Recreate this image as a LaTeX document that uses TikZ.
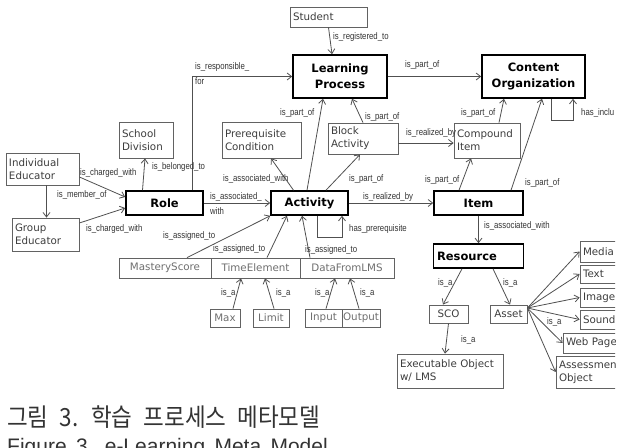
\documentclass[tikz,border=0pt]{standalone}
\usepackage{fontspec}
\setmainfont{DejaVu Sans}
\newfontfamily\lblfont[FakeStretch=0.82]{Liberation Sans}
\newfontfamily\krfont[FakeStretch=0.9,WordSpace=2.2]{Noto Sans CJK KR}
\newfontfamily\enfont[WordSpace=1.6]{Liberation Sans}
\usetikzlibrary{positioning,arrows.meta}
\definecolor{boxgray}{HTML}{626262}
\definecolor{txtgray}{HTML}{3C3C3C}
\definecolor{cellgray}{HTML}{6E6E6E}
\definecolor{linegray}{HTML}{505050}
\definecolor{lblgray}{HTML}{333333}
\definecolor{capgray}{HTML}{333333}

\begin{document}
\begin{tikzpicture}[
  x=1pt, y=-1pt,
  box/.style={draw=boxgray,line width=0.8pt,inner sep=3pt,text=txtgray,font=\fontsize{10.3}{13}\selectfont},
  lbox/.style={box,align=left,text width=#1},
  cell/.style={box,minimum height=20,inner xsep=1pt,text=cellgray},
  title/.style={draw=black,line width=1.6pt,align=center,font=\bfseries\fontsize{11.5}{16}\selectfont},
  edge/.style={-{Straight Barb[length=4.5pt,width=7pt]},draw=linegray,line width=0.8pt},
  rel/.style={anchor=west,inner sep=0pt,text=lblgray,font=\lblfont\fontsize{9.5}{10}\selectfont}
]
\useasboundingbox (0,0) rectangle (623,447);

\begin{scope}
\clip (0,0) rectangle (615,400);
% main concepts
\node[lbox=71,minimum height=20] (student) at (328.5,17) {Student};
\node[title,minimum width=94,minimum height=43] (lp) at (340,76.5) {Learning\\Process};
\node[title,minimum width=103,minimum height=43] (co) at (533.5,76.5) {Content\\Organization};
\node[title,minimum width=77,minimum height=24] (role) at (164.5,203) {Role};
\node[title,minimum width=77,minimum height=24] (activity) at (309.5,203) {Activity};
\node[title,minimum width=89,minimum height=24] (item) at (478.5,203) {Item};
\node[title,align=left,text width=83,minimum height=24] (resource) at (478.5,256) {Resource};

% plain boxes
\node[lbox=48,minimum height=36] (school) at (146,140) {School\\Division};
\node[lbox=73,minimum height=36] (prereq) at (261.5,140) {Prerequisite\\Condition};
\node[lbox=64,minimum height=31] (block) at (363,138.5) {Block\\Activity};
\node[lbox=60,minimum height=35] (compound) at (487,140.5) {Compound\\Item};
\node[lbox=67,minimum height=32] (indiv) at (42.5,169) {Individual\\Educator};
\node[lbox=61,minimum height=33] (group) at (45.5,234.5) {Group\\Educator};

% tracking data row
\node[cell,minimum width=92] (mastery) at (165,268) {MasteryScore};
\node[cell,minimum width=89,right=-0.8pt of mastery] (timeel) {TimeElement};
\node[cell,minimum width=94,right=-0.8pt of timeel] (datalms) {DataFromLMS};
\node[cell,minimum width=30,minimum height=18] (max) at (225,318) {Max};
\node[cell,minimum width=36,minimum height=18] (limit) at (271,318) {Limit};
\node[cell,minimum width=37,minimum height=18] (input) at (323.5,318) {Input};
\node[cell,minimum width=38,minimum height=18] (output) at (361,318) {Output};

% resources
\node[box,minimum width=39,minimum height=18] (sco) at (448.5,314) {SCO};
\node[box,minimum width=37,minimum height=18] (asset) at (508.5,314) {Asset};
\node[lbox=100,minimum height=34] (exe) at (450,371) {Executable Object\\w/ LMS};
\node[lbox=54,minimum height=21] (media) at (610,251.5) {Media};
\node[lbox=54,minimum height=18] (text) at (610,274) {Text};
\node[lbox=54,minimum height=19] (image) at (610,297.5) {Image};
\node[lbox=54,minimum height=19] (sound) at (610,319.5) {Sound};
\node[lbox=71,minimum height=20] (webpage) at (601.5,343) {Web Page};
\node[lbox=78,minimum height=32] (assess) at (598,372) {Assessment\\Object};

% relations
\draw[edge] (student.south) -- ([xshift=-8]lp.north);
\draw[edge] (lp) -- (co);
\draw[edge] ([xshift=28]role.north) |- (lp.west);
\draw[edge] ([xshift=17.5]co.south) -- ++(0,22) -| ([xshift=39.5]co.south);
\draw[edge] ([yshift=-8]indiv.east) -- ([yshift=6]role.west);
\draw[edge] ([xshift=4]indiv.south) -- ([xshift=1]group.north);
\draw[edge] ([yshift=11.5]group.east) -- ([yshift=-5]role.west);
\draw[edge] ([xshift=-22]role.north) -- ([xshift=-1]school.south);
\draw[edge] (role) -- (activity);
\draw[edge] ([xshift=-16]activity.north) -- ([xshift=9.5]prereq.south);
\draw[edge] ([xshift=-2.5]activity.north) -- ([xshift=-17]lp.south);
\draw[edge] ([xshift=16.5]activity.north) -- ([xshift=-3]block.south);
\draw[edge] (block.north) -- ([xshift=12]lp.south);
\draw[edge] ([yshift=-4.5]block.east) -- ([yshift=-2.5]compound.west);
\draw[edge] ([xshift=12]compound.north) -- ([xshift=-29.5]co.south);
\draw[edge] ([xshift=-19.5]item.north) -- ([xshift=-16]compound.south);
\draw[edge] ([xshift=32.5]item.north) -- ([xshift=8.5]co.south);
\draw[edge] (activity) -- (item);
\draw[edge] ([xshift=7.5]activity.south) -- ++(0,22) -| ([xshift=32.5]activity.south);
\draw[edge] (item) -- (resource);
\draw[edge] ([xshift=22]mastery.north) -- (activity.south west);
\draw[edge] ([xshift=11.5]timeel.north) -- ([xshift=-22.5]activity.south);
\draw[edge] ([xshift=-37]datalms.north) -- ([xshift=-7.5]activity.south);
\draw[edge] ([xshift=8]max.north) -- ([xshift=-14.5]timeel.south);
\draw[edge] ([xshift=3]limit.north) -- ([xshift=9.5]timeel.south);
\draw[edge] ([xshift=2.5]input.north) -- ([xshift=-12]datalms.south);
\draw[edge] ([xshift=-2]output.north) -- ([xshift=3]datalms.south);
\draw[edge] ([xshift=-16.5]resource.south) -- ([xshift=-5.5]sco.north);
\draw[edge] ([xshift=14.5]resource.south) -- ([xshift=1.5]asset.north);
\draw[edge] (sco.south) -- ([xshift=-5]exe.north);
\foreach \kind in {media,text,image,sound,webpage,assess}
  \draw[edge] ([yshift=6]asset.east) -- (\kind.west);

% relation names
\node[rel] (lreg) at (333,37) {is\_registered\_to};
\node[rel] (lpart1) at (405,65) {is\_part\_of};
\node[rel] (lresp) at (195,67) {is\_responsible\_};
\node[rel] (lfor) at (195,81) {for};
\node[rel] (lincl) at (581,113) {has\_inclu};
\node[rel] (lpart2) at (280,113) {is\_part\_of};
\node[rel] (lpart3) at (365,117) {is\_part\_of};
\node[rel] (lreal1) at (406,133) {is\_realized\_by};
\node[rel] (lpart4) at (461,113) {is\_part\_of};
\node[rel] (lpart5) at (425,180) {is\_part\_of};
\node[rel] (lpart6) at (525,183) {is\_part\_of};
\node[rel] (lchg1) at (80,173) {is\_charged\_with};
\node[rel] (lmem) at (57,195) {is\_member\_of};
\node[rel] (lchg2) at (86,229) {is\_charged\_with};
\node[rel] (lbel) at (152,167) {is\_belonged\_to};
\node[rel] (lasso1) at (223,179) {is\_associated\_with};
\node[rel] (lasso2) at (210,197) {is\_associated\_};
\node[rel] (lwith) at (210,211) {with};
\node[rel] (lpart7) at (349,179) {is\_part\_of};
\node[rel] (lreal2) at (363,197) {is\_realized\_by};
\node[rel] (lprq) at (349,229) {has\_prerequisite};
\node[rel] (lasso3) at (484,226) {is\_associated\_with};
\node[rel] (lasg1) at (163,236) {is\_assigned\_to};
\node[rel] (lasg2) at (213,249) {is\_assigned\_to};
\node[rel] (lasg3) at (305,250) {is\_assigned\_to};
\node[rel] (lisa1) at (221,293) {is\_a};
\node[rel] (lisa2) at (276,293) {is\_a};
\node[rel] (lisa3) at (315,293) {is\_a};
\node[rel] (lisa4) at (360,293) {is\_a};
\node[rel] (lisa5) at (438,283) {is\_a};
\node[rel] (lisa6) at (503,283) {is\_a};
\node[rel] (lisa7) at (461,340) {is\_a};
\node[rel] (lisa8) at (547,322) {is\_a};
\end{scope}

% caption
\node[anchor=base west,inner sep=0pt,text=capgray,font=\krfont\fontsize{25}{28}\selectfont] (capkr) at (7,426) {그림 3. 학습 프로세스 메타모델};
\node[anchor=base west,inner sep=0pt,text=capgray,font=\enfont\fontsize{21}{24}\selectfont] (capen) at (7,453) {Figure 3. e-Learning Meta Model};
\end{tikzpicture}
\end{document}
